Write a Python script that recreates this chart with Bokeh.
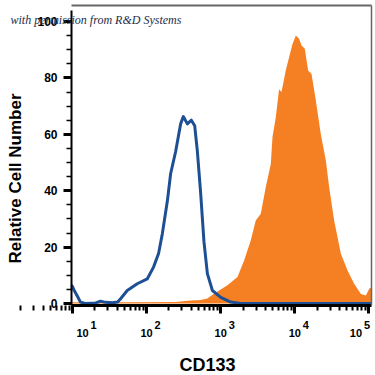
import math
from bokeh.plotting import figure
from bokeh.models import FixedTicker, Label, Range1d, LinearAxis, LogAxis
from bokeh.embed import file_html
from bokeh.resources import INLINE

# ---- data ----
# isotype control (blue outline): fluorescence intensity, relative cell number
iso_x = [9.7, 10, 10.6, 11.7, 12.8, 15, 20.5, 23.9, 27.9, 34.7, 40.7, 44.6, 54.8, 74.8,
         102, 124, 145, 163, 191, 211, 247, 288, 313, 355, 402, 446, 484, 537, 594,
         661, 773, 1000, 1365, 1862, 5000, 20000, 108000]
iso_y = [6.5, 6.0, 4.5, 2.5, 0.5, 0.0, 0.2, 0.8, 0.4, 0.3, 0.5, 1.7, 4.6, 7.0,
         8.7, 12.9, 17.7, 24.7, 36.5, 46.0, 54.0, 63.7, 66.3, 63.7, 65.0, 63.0, 54.0, 39.0, 22.0,
         10.6, 4.6, 2.2, 0.5, 0.0, 0.0, 0.0, 0.0]

# CD133 stained (orange filled)
cd_x = [9.7, 50, 251, 355, 537, 661, 811, 1233, 1683, 2065, 2541, 2972, 3475, 4055,
        4742, 5000, 5534, 6138, 6607, 7551, 8375, 9311, 10330, 11430, 12330, 13650,
        15140, 16830, 19230, 22440, 26240, 29110, 33960, 41880, 51520, 63240, 77980,
        91000, 100900, 108000]
cd_y = [0.4, 0.4, 0.5, 1.0, 1.2, 1.8, 3.5, 6.5, 9.4, 15.2, 22.3, 29.4, 31.8, 41.2,
        49.5, 59.0, 66.0, 76.0, 75.0, 82.6, 87.3, 92.0, 95.0, 93.9, 91.5, 90.3,
        82.6, 81.4, 72.0, 60.0, 50.7, 41.2, 29.4, 17.6, 11.7, 7.0, 3.4,
        2.8, 5.2, 5.8]

x_major = [10, 100, 1000, 10000, 100000]
x_exp = ["1", "2", "3", "4", "5"]
y_major = [0, 20, 40, 60, 80, 100]

# plot box limits (data units)
X_LO, X_HI = 10 ** 0.9865, 10 ** 5.035
Y_LO, Y_HI = -0.709, 105.5

BLUE = "#1d4f94"
ORANGE = "#f58024"
FONT = "Liberation Sans"

p = figure(frame_width=375, frame_height=375, x_axis_type="log",
           x_range=Range1d(10 ** 0.02834, 10 ** 5.08907), y_range=Range1d(-25.532, 107.447),
           x_axis_location=None, y_axis_location=None,
           min_border=0, toolbar_location=None, output_backend="svg")
p.grid.visible = False
p.outline_line_color = None
p.background_fill_color = "white"
p.border_fill_color = "white"

p.varea(x=cd_x, y1=[0] * len(cd_x), y2=cd_y, fill_color=ORANGE)
p.line(iso_x, iso_y, line_color=BLUE, line_width=3, line_join="round")

# gray frame (top / right)
top = LogAxis(fixed_location=Y_HI, bounds=(X_LO, X_HI), axis_line_color="#666666",
              axis_line_width=2, major_tick_line_color=None, minor_tick_line_color=None,
              major_label_text_color=None)
right = LinearAxis(fixed_location=X_HI, bounds=(Y_LO, Y_HI), axis_line_color="#666666",
                   axis_line_width=1.5, major_tick_line_color=None, minor_tick_line_color=None,
                   major_label_text_color=None)
p.add_layout(top, "above")
p.add_layout(right, "right")

# x axis
minor_x = [m * 10 ** e for e in range(0, 5) for m in range(2, 10)]
xax = LogAxis(fixed_location=Y_LO, bounds=(X_LO, X_HI),
              ticker=FixedTicker(ticks=x_major, minor_ticks=minor_x),
              axis_line_width=3, axis_line_color="black",
              major_tick_line_width=3, major_tick_out=8, major_tick_in=0,
              minor_tick_line_width=2, minor_tick_out=5, minor_tick_in=0,
              major_label_text_color=None)
p.add_layout(xax, "below")

# y axis
yax = LinearAxis(fixed_location=X_LO, bounds=(Y_LO, 104.0),
                 ticker=FixedTicker(ticks=y_major, minor_ticks=list(range(0, 105, 5))),
                 axis_line_width=2, axis_line_color="black",
                 major_tick_line_width=3, major_tick_out=8, major_tick_in=0,
                 minor_tick_line_width=1.5, minor_tick_out=5, minor_tick_in=0,
                 major_label_standoff=6, major_label_text_font=FONT,
                 major_label_text_font_style="bold", major_label_text_font_size="12px",
                 major_label_text_color="black")
p.add_layout(yax, "left")

# x tick labels "10" with superscript exponent
offsets = [10, 0, 0, 0, -13]
for xv, ex, off in zip(x_major, x_exp, offsets):
    p.add_layout(Label(x=xv, y=43, x_units="data", y_units="screen", x_offset=off,
                       text="10", text_align="center", text_baseline="alphabetic",
                       text_font=FONT, text_font_style="bold",
                       text_font_size="11px", text_color="black"))
    p.add_layout(Label(x=xv, y=51, x_units="data", y_units="screen", x_offset=off + 8,
                       text=ex, text_align="left", text_baseline="alphabetic",
                       text_font=FONT, text_font_style="bold",
                       text_font_size="11px", text_color="black"))

# axis titles
p.add_layout(Label(x=15, y=197, x_units="screen", y_units="screen",
                   text="Relative Cell Number", angle=math.pi / 2,
                   text_align="center", text_baseline="middle",
                   text_font=FONT, text_font_style="bold",
                   text_font_size="17px", text_color="black"))
p.add_layout(Label(x=207, y=10.5, x_units="screen", y_units="screen",
                   text="CD133", text_align="center", text_baseline="middle",
                   text_font=FONT, text_font_style="bold",
                   text_font_size="18px", text_color="black"))

# watermark
p.add_layout(Label(x=10, y=356, x_units="screen", y_units="screen",
                   text="with permission from R&D Systems", text_align="left",
                   text_baseline="alphabetic", text_font="Liberation Serif",
                   text_font_style="italic", text_font_size="12px", text_color="#1c2e4a"))

open("out.html", "w").write(file_html(p, INLINE))
